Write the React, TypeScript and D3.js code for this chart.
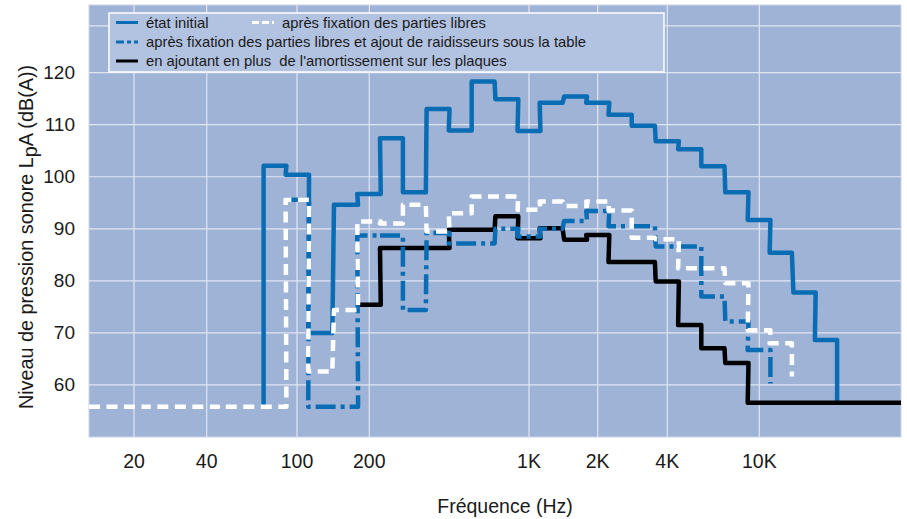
import React from "react";
import * as d3 from "d3";

// Canvas and plot frame
const W = 907;
const H = 519;
const plot = { left: 89, right: 901, top: 5, bottom: 437 };

// Third-octave band centre frequencies (Hz)
const bands = [
  20, 25, 31.5, 40, 50, 63, 80, 100, 125, 160, 200, 250, 315, 400, 500, 630,
  800, 1000, 1250, 1600, 2000, 2500, 3150, 4000, 5000, 6300, 8000, 10000,
  12500, 16000, 20000,
];

// Axis ticks
const xTickValues = [20, 40, 100, 200, 1000, 2000, 4000, 10000];
const xTickLabels = ["20", "40", "100", "200", "1K", "2K", "4K", "10K"];
const yTickValues = [60, 70, 80, 90, 100, 110, 120];
const yGridValues = [60, 70, 80, 90, 100, 110, 120, 129];

// Sound pressure level per band, dB(A)
// état initial: 80 Hz .. 20 kHz
const etatInitial = [
  102.1, 100.4, 70.0, 94.6, 96.7, 107.4, 97.0, 113.0, 108.9, 118.3, 114.9,
  108.8, 114.2, 115.4, 114.2, 111.9, 109.8, 106.8, 105.3, 102.0, 97.0, 91.7,
  85.4, 77.75, 68.65,
];
// après fixation des parties libres: 20 Hz .. 12.5 kHz
const fixation = [
  55.8, 55.8, 55.8, 55.8, 55.8, 55.8, 55.8, 95.6, 62.6, 74.4, 91.4, 91.0, 94.6,
  89.5, 93.0, 96.2, 96.2, 93.65, 95.25, 94.4, 95.25, 93.5, 88.3, 88.0, 82.4,
  82.4, 79.55, 70.5, 68.0,
];
// après fixation + raidisseurs: 100 Hz .. 10 kHz
const raidisseurs = [
  95.6, 55.8, 55.8, 88.7, 88.7, 74.4, 89.2, 87.2, 87.2, 90.0, 88.5, 90.0, 91.5,
  93.4, 90.5, 90.5, 86.6, 86.6, 77.0, 72.2, 66.7,
];
// avec amortissement: 200 Hz .. 20 kHz
const amortissement = [
  75.4, 86.3, 86.3, 86.3, 89.8, 89.8, 92.4, 88.2, 90.1, 87.9, 88.8, 83.6, 83.6,
  79.9, 71.5, 67.05, 64.2, 56.6, 56.6, 56.6, 56.6,
];

const legendLabels = [
  "état initial",
  "après fixation des parties libres",
  "après fixation des parties libres et ajout de raidisseurs sous la table",
  "en ajoutant en plus  de l'amortissement sur les plaques",
];

const BLUE = "#0a6db4";
const BG = "#9eb3d6";
const GRID = "#dfe6f2";
const FONT = "'Liberation Sans', Arial, Helvetica, sans-serif";
const NARROW = "'Liberation Sans Narrow', 'Arial Narrow', 'Liberation Sans', Arial, sans-serif";

type Series = {
  key: string;
  values: number[];
  firstBand: number;
  startLevel: number | null;
  endLevel: number | null;
  extendLeft?: boolean;
  extendRight?: boolean;
  stroke: string;
  width: number;
  dash?: string;
};

const series: Series[] = [
  {
    key: "initial",
    values: etatInitial,
    firstBand: 80,
    startLevel: 55.8,
    endLevel: 56.6,
    stroke: BLUE,
    width: 4.5,
  },
  {
    key: "amortissement",
    values: amortissement,
    firstBand: 200,
    startLevel: null,
    endLevel: null,
    extendRight: true,
    stroke: "#000000",
    width: 4.5,
  },
  {
    key: "raidisseurs",
    values: raidisseurs,
    firstBand: 100,
    startLevel: null,
    endLevel: 60.3,
    stroke: BLUE,
    width: 4.5,
    dash: "20 5 4 5",
  },
  {
    key: "fixation",
    values: fixation,
    firstBand: 20,
    startLevel: null,
    endLevel: 61.6,
    extendLeft: true,
    stroke: "#ffffff",
    width: 4.5,
    dash: "11 6.5",
  },
];

const x = d3
  .scaleLog()
  .domain([20, 40, 100, 200, 1000, 2000, 4000, 10000, 20000])
  .range([134, 206.7, 297, 369.3, 529, 597.7, 667.3, 759.3, 826]);

const y = d3.scaleLinear().domain([50, 133]).range([plot.bottom, plot.top]);

const sixth = Math.pow(2, 1 / 6);

function stepPoints(s: Series): [number, number][] {
  const start = bands.indexOf(s.firstBand);
  const pts: [number, number][] = [];
  s.values.forEach((v, i) => {
    const f = bands[start + i];
    const lo = x(f / sixth);
    const hi = x(f * sixth);
    if (i === 0) {
      if (s.extendLeft) pts.push([plot.left, y(v)]);
      else if (s.startLevel != null) pts.push([lo, y(s.startLevel)]);
    }
    pts.push([lo, y(v)], [hi, y(v)]);
  });
  const last = s.values[s.values.length - 1];
  const lastF = bands[start + s.values.length - 1];
  if (s.endLevel != null) pts.push([x(lastF * sixth), y(s.endLevel)]);
  if (s.extendRight) pts.push([plot.right, y(last)]);
  return pts;
}

const line = d3.line<[number, number]>();

export default function App() {
  const legendRows = [
    { x: 116, y: 22.5, label: legendLabels[0], stroke: BLUE, dash: undefined as string | undefined },
    { x: 252, y: 22.5, label: legendLabels[1], stroke: "#ffffff", dash: "7 3" },
    { x: 116, y: 42, label: legendLabels[2], stroke: BLUE, dash: "8 3 4 3" },
    { x: 116, y: 61, label: legendLabels[3], stroke: "#000000", dash: undefined },
  ];

  return (
    <svg
      width={W}
      height={H}
      viewBox={`0 0 ${W} ${H}`}
      style={{ position: "absolute", left: 0, top: 0, background: "#ffffff" }}
    >
      <defs>
        <clipPath id="plot-clip">
          <rect
            x={plot.left}
            y={plot.top}
            width={plot.right - plot.left}
            height={plot.bottom - plot.top}
          />
        </clipPath>
      </defs>

      {/* plot background */}
      <rect
        x={plot.left}
        y={plot.top}
        width={plot.right - plot.left}
        height={plot.bottom - plot.top}
        fill={BG}
        stroke="#c9d4e8"
        strokeWidth={1}
      />

      {/* grid */}
      <g stroke={GRID} strokeWidth={1.2}>
        {xTickValues.map((v) => (
          <line key={`gx${v}`} x1={x(v)} x2={x(v)} y1={plot.top} y2={plot.bottom} />
        ))}
        {yGridValues.map((v) => (
          <line key={`gy${v}`} x1={plot.left} x2={plot.right} y1={y(v)} y2={y(v)} />
        ))}
      </g>

      {/* legend */}
      <g>
        <rect x={109} y={13} width={555} height={59} fill="#b2c2e1" stroke="#ffffff" strokeWidth={1.5} />
        {legendRows.map((r, i) => (
          <g key={i}>
            <line
              x1={r.x}
              x2={r.x + 22}
              y1={r.y}
              y2={r.y}
              stroke={r.stroke}
              strokeWidth={3}
              strokeDasharray={r.dash}
            />
            <text
              x={r.x + 30}
              y={r.y}
              dominantBaseline="central"
              fontFamily={FONT}
              fontSize={14.8}
              fill="#1a1a1a"
              style={{ whiteSpace: "pre" }}
            >
              {r.label}
            </text>
          </g>
        ))}
      </g>

      {/* series */}
      <g clipPath="url(#plot-clip)" fill="none">
        {series.map((s) => (
          <path
            key={s.key}
            d={line(stepPoints(s)) ?? ""}
            stroke={s.stroke}
            strokeWidth={s.width}
            strokeDasharray={s.dash}
            strokeLinejoin="round"
          />
        ))}
      </g>

      {/* y ticks */}
      <g fontFamily={NARROW} fontSize={19} fill="#1a1a1a">
        {yTickValues.map((v) => (
          <text key={`yt${v}`} x={75} y={y(v)} textAnchor="end" dominantBaseline="central">
            {v}
          </text>
        ))}
      </g>

      {/* x ticks */}
      <g fontFamily={NARROW} fontSize={19.5} fill="#1a1a1a">
        {xTickValues.map((v, i) => (
          <text key={`xt${v}`} x={x(v)} y={468} textAnchor="middle">
            {xTickLabels[i]}
          </text>
        ))}
      </g>

      {/* axis titles */}
      <text
        transform="translate(33,237) rotate(-90)"
        textAnchor="middle"
        fontFamily={FONT}
        fontSize={19.8}
        fill="#1a1a1a"
      >
        Niveau de pression sonore L
        <tspan dy={4}>p</tspan>
        <tspan dy={-4}>A (dB(A))</tspan>
      </text>
      <text x={505} y={513} textAnchor="middle" fontFamily={FONT} fontSize={19.5} fill="#1a1a1a">
        Fréquence (Hz)
      </text>
    </svg>
  );
}
